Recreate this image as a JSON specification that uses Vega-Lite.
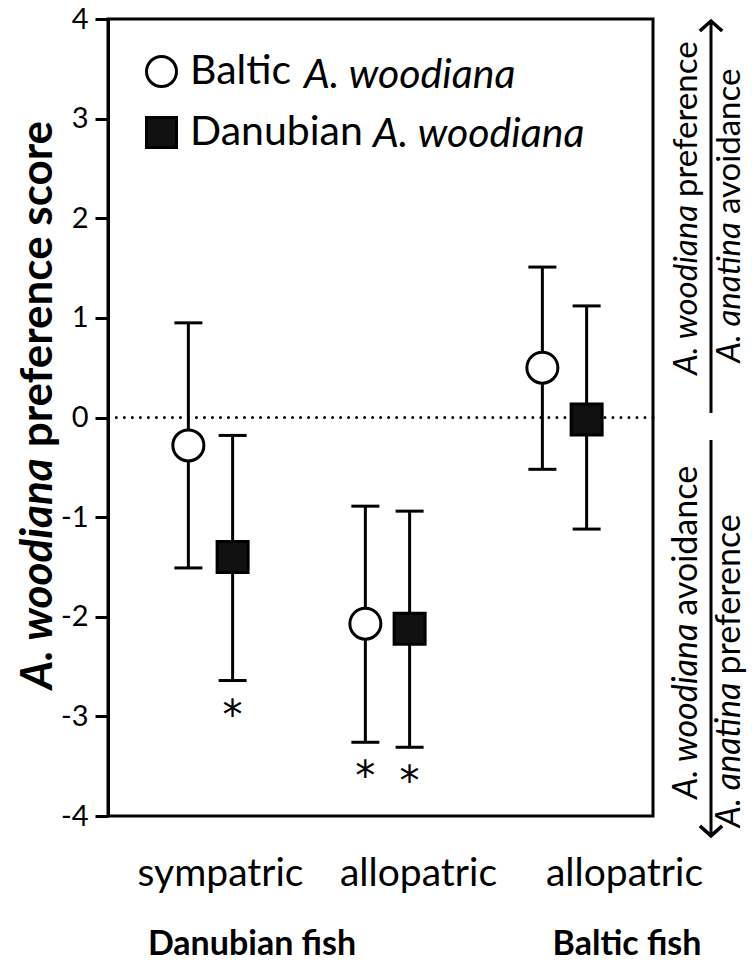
{
  "$schema": "https://vega.github.io/schema/vega-lite/v6.json",
  "autosize": "none",
  "width": 545,
  "height": 797,
  "padding": {"left": 108, "top": 19, "right": 99, "bottom": 151},
  "background": "white",
  "config": {
    "font": "Lato",
    "view": {"stroke": "black", "strokeWidth": 3},
    "axisY": {
      "title": null,
      "grid": false,
      "labelExpr": "'' + datum.value",
      "labelFont": "Lato",
      "labelFontSize": 29,
      "labelColor": "black",
      "labelPadding": 7,
      "tickSize": 13,
      "tickWidth": 3,
      "tickColor": "black",
      "domainColor": "black",
      "domainWidth": 3
    },
    "axisX": {
      "title": null,
      "domain": false,
      "ticks": false,
      "grid": false,
      "labelFont": "Lato",
      "labelFontSize": 39,
      "labelColor": "black",
      "labelPadding": 38,
      "labelAngle": 0
    },
    "legend": {
      "title": null, "orient": "none", "legendX": 33, "legendY": 32, "labelFont": "Lato", "labelFontSize": 41, "labelColor": "black", "labelLimit": 400,
      "labelOffset": 8, "rowPadding": 18, "symbolSize": 900, "symbolStrokeColor": "black", "symbolStrokeWidth": 3, "symbolOpacity": 1, "padding": 0
    }
  },
  "datasets": {
    "scores": [
      {"group": "Danubian sympatric", "source": "Baltic", "mean": -0.28, "lower": -1.51, "upper": 0.95, "sig": ""},
      {"group": "Danubian sympatric", "source": "Danubian", "mean": -1.40, "lower": -2.64, "upper": -0.18, "sig": "*"},
      {"group": "Danubian allopatric", "source": "Baltic", "mean": -2.07, "lower": -3.26, "upper": -0.89, "sig": "*"},
      {"group": "Danubian allopatric", "source": "Danubian", "mean": -2.12, "lower": -3.31, "upper": -0.94, "sig": "*"},
      {"group": "Baltic allopatric", "source": "Baltic", "mean": 0.50, "lower": -0.52, "upper": 1.51, "sig": ""},
      {"group": "Baltic allopatric", "source": "Danubian", "mean": -0.02, "lower": -1.12, "upper": 1.12, "sig": ""}
    ]
  },
  "layer": [
    {
      "data": {"values": [{}]},
      "mark": {"type": "rule", "strokeDash": [0.01, 8], "strokeCap": "round", "strokeWidth": 3, "color": "black"},
      "encoding": {"y": {"datum": 0, "type": "quantitative", "scale": {"domain": [-4, 4], "nice": false, "zero": false},
                         "axis": {"values": [-4, -3, -2, -1, 0, 1, 2, 3, 4], "title": null}}}
    },
    {
      "data": {"name": "scores"},
      "mark": {"type": "rule", "strokeWidth": 3, "color": "black"},
      "encoding": {
        "x": {"field": "group", "type": "nominal", "sort": ["Danubian sympatric", "Danubian allopatric", "Baltic allopatric"],
              "scale": {"paddingInner": 0, "paddingOuter": 0.0395, "align": 1},
              "axis": {"labelExpr": "split(datum.value, ' ')[1]",
                       "labelOffset": {"condition": [{"test": "datum.value === 'Danubian sympatric'", "value": 10}, {"test": "datum.value === 'Danubian allopatric'", "value": 31}], "value": 60}}},
        "xOffset": {"field": "source", "type": "nominal", "sort": ["Baltic", "Danubian"], "scale": {"paddingInner": 0, "paddingOuter": 1.058}},
        "y": {"field": "lower", "type": "quantitative", "axis": {"values": [-4, -3, -2, -1, 0, 1, 2, 3, 4], "title": null}},
        "y2": {"field": "upper"}
      }
    },
    {
      "data": {"name": "scores"},
      "mark": {"type": "tick", "size": 28, "thickness": 3, "color": "black", "opacity": 1},
      "encoding": {
        "x": {"field": "group", "type": "nominal", "sort": ["Danubian sympatric", "Danubian allopatric", "Baltic allopatric"]},
        "xOffset": {"field": "source", "type": "nominal", "sort": ["Baltic", "Danubian"]},
        "y": {"field": "upper", "type": "quantitative"}
      }
    },
    {
      "data": {"name": "scores"},
      "mark": {"type": "tick", "size": 28, "thickness": 3, "color": "black", "opacity": 1},
      "encoding": {
        "x": {"field": "group", "type": "nominal", "sort": ["Danubian sympatric", "Danubian allopatric", "Baltic allopatric"]},
        "xOffset": {"field": "source", "type": "nominal", "sort": ["Baltic", "Danubian"]},
        "y": {"field": "lower", "type": "quantitative"}
      }
    },
    {
      "data": {"name": "scores"},
      "mark": {"type": "point", "filled": true, "strokeWidth": 3, "size": 961, "opacity": 1},
      "encoding": {
        "x": {"field": "group", "type": "nominal", "sort": ["Danubian sympatric", "Danubian allopatric", "Baltic allopatric"]},
        "xOffset": {"field": "source", "type": "nominal", "sort": ["Baltic", "Danubian"]},
        "y": {"field": "mean", "type": "quantitative"},
        "shape": {"field": "source", "type": "nominal", "scale": {"domain": ["Baltic", "Danubian"], "range": ["circle", "square"]}},
        "fill": {"field": "source", "type": "nominal", "scale": {"domain": ["Baltic", "Danubian"], "range": ["white", "#111111"]}},
        "stroke": {"field": "source", "type": "nominal", "scale": {"domain": ["Baltic", "Danubian"], "range": ["black", "black"]}}
      }
    },
    {
      "data": {"name": "scores"},
      "mark": {"type": "text", "fontSize": 40, "align": "center", "baseline": "middle", "dy": 36, "color": "black", "font": "DejaVu Sans"},
      "encoding": {
        "x": {"field": "group", "type": "nominal", "sort": ["Danubian sympatric", "Danubian allopatric", "Baltic allopatric"]},
        "xOffset": {"field": "source", "type": "nominal", "sort": ["Baltic", "Danubian"]},
        "y": {"field": "lower", "type": "quantitative"},
        "text": {"field": "sig"}
      }
    },
    {
      "data": {"values": [{}]},
      "mark": {"type": "text", "text": "A. woodiana", "fontStyle": "italic", "fontSize": 41, "align": "left", "baseline": "alphabetic", "color": "black", "font": "Lato"},
      "encoding": {"x": {"value": 196}, "y": {"datum": 3.307, "type": "quantitative"}}
    },
    {
      "data": {"values": [{}]},
      "mark": {"type": "text", "text": "A. woodiana", "fontStyle": "italic", "fontSize": 41, "align": "left", "baseline": "alphabetic", "color": "black", "font": "Lato"},
      "encoding": {"x": {"value": 265}, "y": {"datum": 2.715, "type": "quantitative"}}
    },
    {
      "data": {"values": [{}]},
      "mark": {"type": "text", "text": "A. woodiana", "fontStyle": "italic", "fontWeight": "bold", "fontSize": 44, "angle": 270, "align": "right", "baseline": "alphabetic", "color": "black", "font": "Lato"},
      "encoding": {"x": {"value": -56}, "y": {"datum": -0.41, "type": "quantitative"}}
    },
    {
      "data": {"values": [{}]},
      "mark": {"type": "text", "text": "preference score", "fontWeight": "bold", "fontSize": 44, "angle": 270, "align": "left", "baseline": "alphabetic", "dx": 11, "color": "black", "font": "Lato"},
      "encoding": {"x": {"value": -56}, "y": {"datum": -0.41, "type": "quantitative"}}
    },
    {
      "data": {"values": [{}]},
      "mark": {"type": "text", "text": "A. woodiana", "fontStyle": "italic", "fontSize": 33, "angle": 270, "align": "right", "baseline": "alphabetic", "color": "black", "font": "Lato"},
      "encoding": {"x": {"value": 589}, "y": {"datum": 2.133, "type": "quantitative"}}
    },
    {
      "data": {"values": [{}]},
      "mark": {"type": "text", "text": "preference", "fontSize": 33, "angle": 270, "align": "left", "baseline": "alphabetic", "dx": 8, "color": "black", "font": "Lato"},
      "encoding": {"x": {"value": 589}, "y": {"datum": 2.133, "type": "quantitative"}}
    },
    {
      "data": {"values": [{}]},
      "mark": {"type": "text", "text": "A. anatina", "fontStyle": "italic", "fontSize": 33, "angle": 270, "align": "right", "baseline": "alphabetic", "color": "black", "font": "Lato"},
      "encoding": {"x": {"value": 632}, "y": {"datum": 1.962, "type": "quantitative"}}
    },
    {
      "data": {"values": [{}]},
      "mark": {"type": "text", "text": "avoidance", "fontSize": 33, "angle": 270, "align": "left", "baseline": "alphabetic", "dx": 8, "color": "black", "font": "Lato"},
      "encoding": {"x": {"value": 632}, "y": {"datum": 1.962, "type": "quantitative"}}
    },
    {
      "data": {"values": [{}]},
      "mark": {"type": "text", "text": "A. woodiana", "fontStyle": "italic", "fontSize": 34, "angle": 270, "align": "right", "baseline": "alphabetic", "color": "black", "font": "Lato"},
      "encoding": {"x": {"value": 589}, "y": {"datum": -2.07, "type": "quantitative"}}
    },
    {
      "data": {"values": [{}]},
      "mark": {"type": "text", "text": "avoidance", "fontSize": 34, "angle": 270, "align": "left", "baseline": "alphabetic", "dx": 8, "color": "black", "font": "Lato"},
      "encoding": {"x": {"value": 589}, "y": {"datum": -2.07, "type": "quantitative"}}
    },
    {
      "data": {"values": [{}]},
      "mark": {"type": "text", "text": "A. anatina", "fontStyle": "italic", "fontSize": 34, "angle": 270, "align": "right", "baseline": "alphabetic", "color": "black", "font": "Lato"},
      "encoding": {"x": {"value": 632}, "y": {"datum": -2.66, "type": "quantitative"}}
    },
    {
      "data": {"values": [{}]},
      "mark": {"type": "text", "text": "preference", "fontSize": 34, "angle": 270, "align": "left", "baseline": "alphabetic", "dx": 8, "color": "black", "font": "Lato"},
      "encoding": {"x": {"value": 632}, "y": {"datum": -2.66, "type": "quantitative"}}
    },
    {
      "data": {"values": [{}]},
      "mark": {"type": "rule", "strokeWidth": 3, "color": "black"},
      "encoding": {"x": {"value": 603}, "y": {"datum": 0.045, "type": "quantitative"}, "y2": {"datum": 3.98}}
    },
    {
      "data": {"values": [{}]},
      "mark": {"type": "rule", "strokeWidth": 3, "color": "black"},
      "encoding": {"x": {"value": 603}, "y": {"datum": -0.226, "type": "quantitative"}, "y2": {"datum": -4.2}}
    },
    {
      "data": {"values": [{}]},
      "mark": {"type": "point", "shape": "M-1,0.9L0,0L1,0.9", "filled": false, "stroke": "black", "strokeWidth": 3.5, "size": 500, "opacity": 1},
      "encoding": {"x": {"value": 603}, "y": {"datum": 3.98, "type": "quantitative"}}
    },
    {
      "data": {"values": [{}]},
      "mark": {"type": "point", "shape": "M-1,-0.9L0,0L1,-0.9", "filled": false, "stroke": "black", "strokeWidth": 3.5, "size": 500, "opacity": 1},
      "encoding": {"x": {"value": 603}, "y": {"datum": -4.2, "type": "quantitative"}}
    },
    {
      "data": {"values": [{}]},
      "mark": {"type": "text", "text": "Danubian fish", "fontWeight": "bold", "fontSize": 34, "align": "center", "baseline": "alphabetic", "color": "black", "font": "Lato"},
      "encoding": {"x": {"value": 144}, "y": {"datum": -5.395, "type": "quantitative"}}
    },
    {
      "data": {"values": [{}]},
      "mark": {"type": "text", "text": "Baltic fish", "fontWeight": "bold", "fontSize": 34, "align": "center", "baseline": "alphabetic", "color": "black", "font": "Lato"},
      "encoding": {"x": {"value": 519}, "y": {"datum": -5.395, "type": "quantitative"}}
    }
  ]
}
